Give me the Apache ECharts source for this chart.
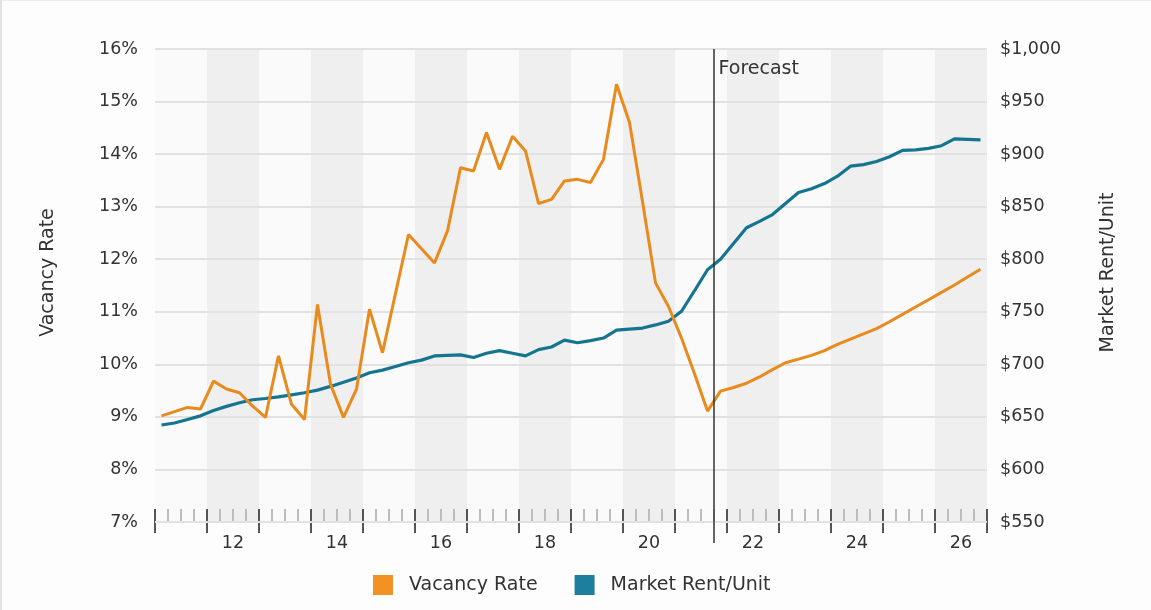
<!DOCTYPE html>
<html>
<head>
<meta charset="utf-8">
<script src="https://cdn.jsdelivr.net/npm/echarts@6/dist/echarts.min.js"></script>
<style>
html,body{margin:0;padding:0;background:#fdfdfd;}
#c{width:1151px;height:610px;box-sizing:border-box;border-left:2px solid #e2e2e2;border-top:1px solid #ececec;}
</style>
</head>
<body>
<div id="c"></div>
<script>
// Year categories (two-digit), one band per year
const years = ['11','12','13','14','15','16','17','18','19','20','21','22','23','24','25','26'];
const quartersPerYear = 4;
// Quarterly vacancy rate (%) 2011 Q1 .. 2026 Q4
const vacancyRate = [
  9.02, 9.10, 9.18, 9.15, 9.68, 9.53, 9.46, 9.21, 8.99, 10.16,
  9.24, 8.95, 11.14, 9.62, 8.99, 9.53, 11.05, 10.22, 11.35, 12.47,
  12.2, 11.93, 12.54, 13.74, 13.68, 14.41, 13.71, 14.34, 14.06, 13.06,
  13.14, 13.49, 13.52, 13.46, 13.90, 15.33, 14.60, 13.1, 11.55, 11.1,
  10.5, 9.82, 9.11, 9.49, 9.56, 9.64, 9.76, 9.90, 10.03, 10.10,
  10.17, 10.26, 10.38, 10.48, 10.58, 10.68, 10.81, 10.95, 11.09, 11.23,
  11.37, 11.51, 11.66, 11.81
];
// Quarterly market rent per unit ($)
const marketRent = [
  642.3, 644.2, 647.5, 651, 656, 660, 663.5, 666.3, 667.5, 669,
  671, 673, 675.5, 679, 683, 687, 692, 694.5, 698, 701.5,
  704, 708, 708.5, 709, 706.5, 710.5, 713, 710.5, 708, 714,
  716.5, 723, 720.5, 722.5, 725, 732.5, 733.5, 734.5, 737.5, 741,
  750.5, 770, 790, 800, 815, 830, 836, 842.5, 853, 863.5,
  867, 872, 879, 888.5, 890, 893, 897.5, 903.5, 904, 905.5,
  908, 914.5, 914, 913.5
];
// Forecast begins at 2021 Q4 (quarter index 43)
const forecastStartQuarter = 43;
const forecastLabel = 'Forecast';
const vacancyTicks = {min: 7, max: 16, interval: 1};
const rentTicks = {min: 550, max: 1000, interval: 50};

const nQ = years.length * quartersPerYear;
const vacData = vacancyRate.map((v, i) => [i + 0.5, v]);
const rentData = marketRent.map((v, i) => [i + 0.5, v]);
// divider from top of the plot down past the axis
const forecastDivider = [[forecastStartQuarter, vacancyTicks.max], [forecastStartQuarter, vacancyTicks.min - 0.4]];

const FONT = 'DejaVu Sans, Verdana, sans-serif';
const txt = {color: '#333', fontSize: 17.5, fontFamily: FONT};
const big = {color: '#333', fontSize: 19, fontFamily: FONT};

const chart = echarts.init(document.getElementById('c'), null, {renderer: 'canvas'});
chart.setOption({
  backgroundColor: 'transparent',
  animation: false,
  textStyle: {fontFamily: FONT},
  grid: {left: 153, right: 164, top: 48, bottom: 88, containLabel: false},
  legend: {
    left: 366, top: 569,
    itemWidth: 20, itemHeight: 20, itemGap: 37,
    icon: 'rect',
    textStyle: Object.assign({}, big, {padding: [0, 0, 0, 11]}),
    data: ['Vacancy Rate', 'Market Rent/Unit']
  },
  xAxis: [
    {
      type: 'category', data: years, position: 'bottom', boundaryGap: true,
      axisLine: {show: false},
      axisTick: {show: true, interval: 0, length: 11, lineStyle: {color: '#555', width: 2}},
      axisLabel: Object.assign({}, txt, {interval: (i) => i % 2 === 1, margin: 12}),
      splitLine: {show: false},
      splitArea: {show: true, interval: 0, areaStyle: {color: ['#fafafa', '#efefef']}}
    },
    {
      type: 'value', min: 0, max: nQ, interval: quartersPerYear, position: 'bottom',
      axisLine: {show: false},
      axisLabel: {show: false},
      axisTick: {show: true, inside: true, length: 13, lineStyle: {color: '#555', width: 2}},
      minorTick: {show: true, splitNumber: quartersPerYear, length: 13, lineStyle: {color: '#bdbdbd', width: 2}},
      splitLine: {show: false}
    }
  ],
  yAxis: [
    {
      type: 'value', min: vacancyTicks.min, max: vacancyTicks.max, interval: vacancyTicks.interval,
      position: 'left', z: 1,
      name: 'Vacancy Rate', nameLocation: 'middle', nameRotate: 90, nameGap: 97,
      nameTextStyle: Object.assign({}, big, {padding: [0, 0, 0, 26]}),
      axisLine: {show: false}, axisTick: {show: false},
      axisLabel: Object.assign({}, txt, {margin: 17, formatter: '{value}%'}),
      splitLine: {show: true, lineStyle: {color: '#e2e2e2', width: 2}}
    },
    {
      type: 'value', min: rentTicks.min, max: rentTicks.max, interval: rentTicks.interval,
      position: 'right', z: 1,
      name: 'Market Rent/Unit', nameLocation: 'middle', nameRotate: 90, nameGap: 112,
      nameTextStyle: Object.assign({}, big, {padding: [0, 0, 0, 26]}),
      axisLine: {show: false}, axisTick: {show: false},
      axisLabel: Object.assign({}, txt, {margin: 13, formatter: (v) => '$' + v.toLocaleString('en-US')}),
      splitLine: {show: false}
    }
  ],
  series: [
    {
      name: 'Vacancy Rate', type: 'line', xAxisIndex: 1, yAxisIndex: 0,
      data: vacData, showSymbol: false, symbol: 'none',
      itemStyle: {color: '#f39222'},
      lineStyle: {color: '#e98a1c', width: 3},
      z: 3,
      markPoint: {
        silent: true, symbol: 'rect', symbolSize: 1, itemStyle: {color: 'rgba(0,0,0,0)'},
        label: Object.assign({}, big, {show: true, position: 'right', distance: 4, offset: [0, 20], formatter: forecastLabel}),
        data: [{coord: [forecastStartQuarter, vacancyTicks.max]}]
      }
    },
    {
      name: 'Market Rent/Unit', type: 'line', xAxisIndex: 1, yAxisIndex: 1,
      data: rentData, showSymbol: false, symbol: 'none',
      itemStyle: {color: '#1d7e9e'},
      lineStyle: {color: '#157590', width: 3.2},
      z: 2
    },
    {
      name: 'forecast-divider', type: 'line', xAxisIndex: 1, yAxisIndex: 0,
      data: forecastDivider, showSymbol: false, symbol: 'none', clip: false, silent: true,
      lineStyle: {color: '#333', width: 1.5},
      z: 4
    }
  ]
});
</script>
</body>
</html>
